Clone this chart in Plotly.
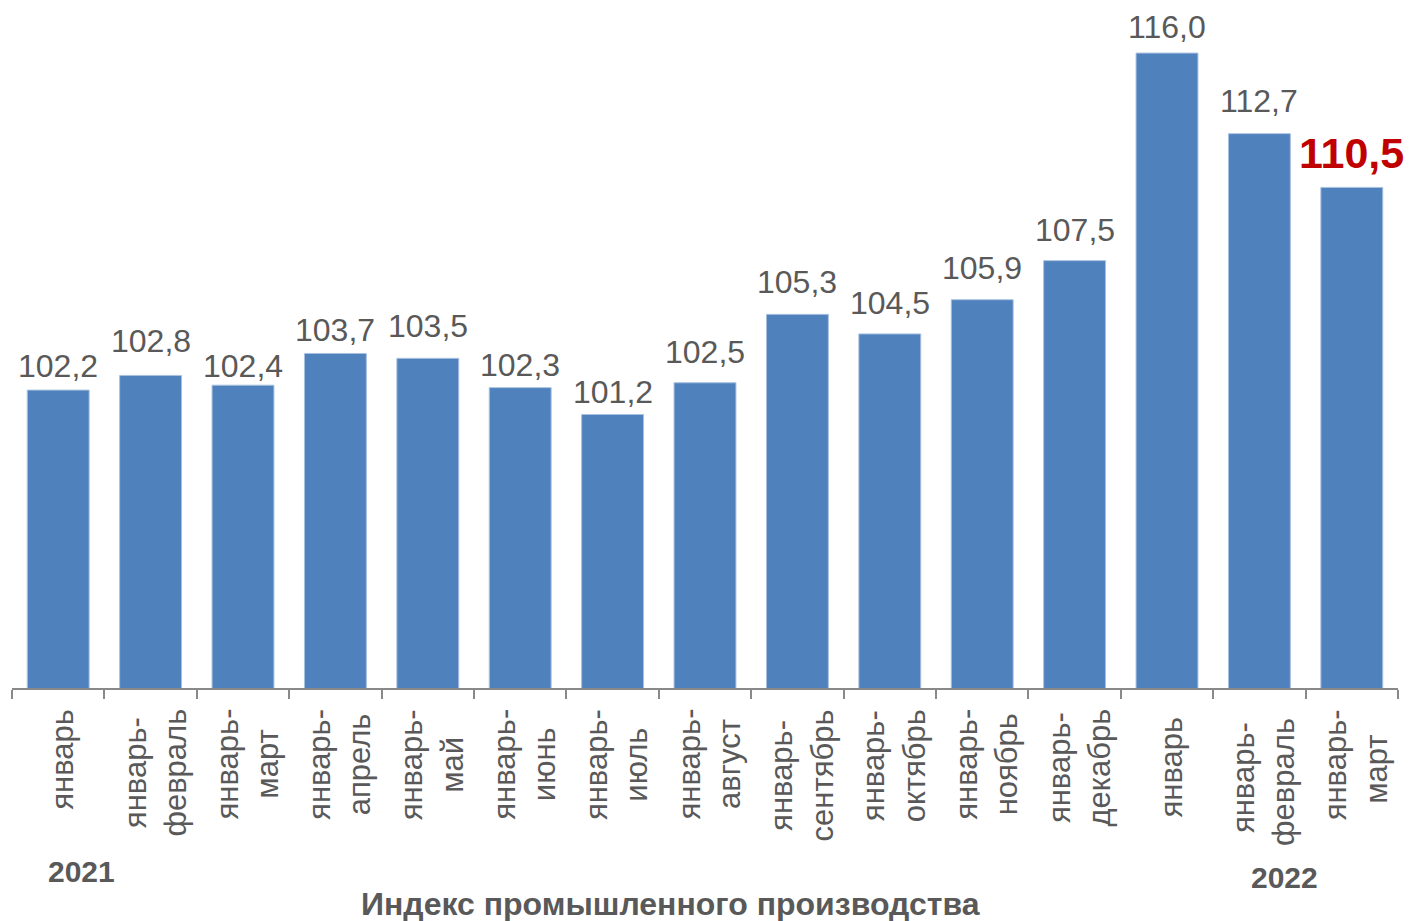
import plotly.graph_objects as go

categories = ["январь", "январь-<br>февраль", "январь-<br>март", "январь-<br>апрель", "январь-<br>май",
              "январь-<br>июнь", "январь-<br>июль", "январь-<br>август", "январь-<br>сентябрь",
              "январь-<br>октябрь", "январь-<br>ноябрь", "январь-<br>декабрь",
              "январь ", "январь-<br>февраль ", "январь-<br>март "]
values = [102.2, 102.8, 102.4, 103.7, 103.5, 102.3, 101.2, 102.5, 105.3, 104.5, 105.9, 107.5, 116.0, 112.7, 110.5]
years = ["2021", "2022"]
title_text = "Индекс промышленного производства"

# label placement offsets (pixels above bar top), styling only
label_offsets = [4, 14, -1, 3, 12, 3, 3, 11, 12, 11, 12, 11, 6, 13, 8]

FONT = "Liberation Sans, Arial, sans-serif"
GREY = "#595959"

fig = go.Figure()
fig.add_trace(go.Bar(
    x=categories, y=values, cliponaxis=False,
    marker=dict(color="#4F81BD", line=dict(color="#A9C1E0", width=1)),
))

annotations = []
for i, (c, v) in enumerate(zip(categories, values)):
    label = f"{v:.1f}".replace(".", ",")
    last = i == len(values) - 1
    annotations.append(dict(
        x=c, xref="x", y=v, yref="y", yanchor="bottom", xanchor="center",
        yshift=label_offsets[i], text=f"<b>{label}</b>" if last else label, showarrow=False,
        font=dict(family=FONT, size=43 if last else 32, color="#C00000" if last else GREY)))

for c in categories:
    annotations.append(dict(
        x=c, xref="x", y=0, yref="paper", yanchor="top", xanchor="center",
        yshift=-19, xshift=4, text=c, textangle=-90, align="center", showarrow=False,
        font=dict(family=FONT, size=31, color=GREY)))

annotations.append(dict(x=0.0505, y=-0.271, xref="paper", yref="paper", xanchor="center", yanchor="middle",
                        text=f"<b>{years[0]}</b>", showarrow=False, font=dict(family=FONT, size=30, color=GREY)))
annotations.append(dict(x=0.918, y=-0.280, xref="paper", yref="paper", xanchor="center", yanchor="middle",
                        text=f"<b>{years[1]}</b>", showarrow=False, font=dict(family=FONT, size=30, color=GREY)))
annotations.append(dict(x=0.475, y=-0.3186, xref="paper", yref="paper", xanchor="center", yanchor="middle",
                        text=f"<b>{title_text}</b>", showarrow=False, font=dict(family=FONT, size=32, color=GREY)))

fig.update_layout(
    width=1419, height=913, autosize=False,
    margin=dict(l=4, r=29, t=2, b=233, autoexpand=False),
    plot_bgcolor="white", paper_bgcolor="white",
    bargap=0.33, showlegend=False,
    annotations=annotations,
    xaxis=dict(showticklabels=False, showline=True, linecolor="#898989", linewidth=2,
               ticks="outside", tickson="boundaries", ticklen=9, tickcolor="#898989", tickwidth=2,
               showgrid=False, zeroline=False, range=[-0.5, len(categories) - 0.5], automargin=False),
    yaxis=dict(range=[90, 90 + 678 / 24.42], visible=False, showgrid=False, zeroline=False, automargin=False),
)

fig.write_html("out.html")
